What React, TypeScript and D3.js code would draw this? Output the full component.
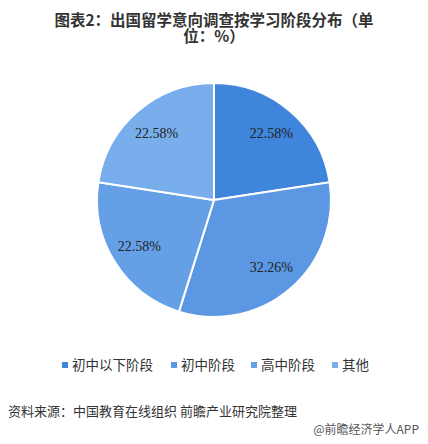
import { useEffect, useRef } from 'react';
import * as d3 from 'd3';

const categories = ['初中以下阶段', '初中阶段', '高中阶段', '其他'];
const values = [22.58, 32.26, 22.58, 22.58];
const colors = ['#4085dc', '#5b97e3', '#65a0e7', '#78aeec'];
const titleLines = ['图表2：出国留学意向调查按学习阶段分布（单', '位：%）'];
const sourceText = '资料来源：中国教育在线组织 前瞻产业研究院整理';
const footerText = '@前瞻经济学人APP';

const W = 428;
const H = 444;
const CJK = '"Noto Sans CJK SC", "Microsoft YaHei", sans-serif';

export default function App() {
  const svgRef = useRef<SVGSVGElement>(null);

  useEffect(() => {
    document.body.style.margin = '0';
    if (!svgRef.current) return;
    const svg = d3.select(svgRef.current);
    svg.selectAll('*').remove();

    svg.append('rect').attr('width', W).attr('height', H).attr('fill', '#fff');

    // Title, wrapped into two tight lines like the original
    svg.append('g').selectAll('text').data(titleLines).join('text')
      .attr('x', 214).attr('y', (_d, i) => 26 + i * 16)
      .attr('text-anchor', 'middle')
      .attr('font-family', CJK).attr('font-weight', 'bold').attr('font-size', '15.5px')
      .attr('fill', '#333')
      .text(d => d);

    // Pie
    const cx = 214, cy = 200, R = 117;
    const pie = d3.pie<number>().sort(null).value(d => d);
    const arcs = pie(values);
    const arc = d3.arc<d3.PieArcDatum<number>>().innerRadius(0).outerRadius(R);
    const labelArc = d3.arc<d3.PieArcDatum<number>>().innerRadius(88).outerRadius(88);
    const g = svg.append('g').attr('transform', `translate(${cx},${cy})`);

    g.selectAll('path').data(arcs).join('path')
      .attr('d', arc)
      .attr('fill', (_d, i) => colors[i])
      .attr('stroke', '#fff').attr('stroke-width', 2);

    g.selectAll('text').data(arcs).join('text')
      .attr('transform', d => `translate(${labelArc.centroid(d)})`)
      .attr('text-anchor', 'middle').attr('dy', '0.35em')
      .attr('font-family', '"Liberation Serif", "Times New Roman", serif')
      .attr('font-size', '14px').attr('fill', '#222')
      .text(d => `${d.data.toFixed(2)}%`);

    // Legend
    const legendX = [62, 171, 251, 332];
    const lg = svg.append('g').selectAll('g').data(categories).join('g')
      .attr('transform', (_d, i) => `translate(${legendX[i]},365)`);
    lg.append('rect').attr('x', 0).attr('y', -3).attr('width', 6).attr('height', 6)
      .attr('fill', (_d, i) => colors[i]);
    lg.append('text').attr('x', 10).attr('dy', '0.36em')
      .attr('font-family', CJK).attr('font-size', '13.5px').attr('fill', '#333')
      .text(d => d);

    // Source & footer
    svg.append('text').attr('x', 8).attr('y', 416)
      .attr('font-family', CJK).attr('font-size', '13px').attr('fill', '#333')
      .text(sourceText);
    svg.append('text').attr('x', 419).attr('y', 434).attr('text-anchor', 'end')
      .attr('font-family', CJK).attr('font-size', '12px').attr('fill', '#555')
      .text(footerText);
  }, []);

  return (
    <div style={{ position: 'absolute', left: 0, top: 0 }}>
      <svg ref={svgRef} width={W} height={H} style={{ display: 'block' }} />
    </div>
  );
}
